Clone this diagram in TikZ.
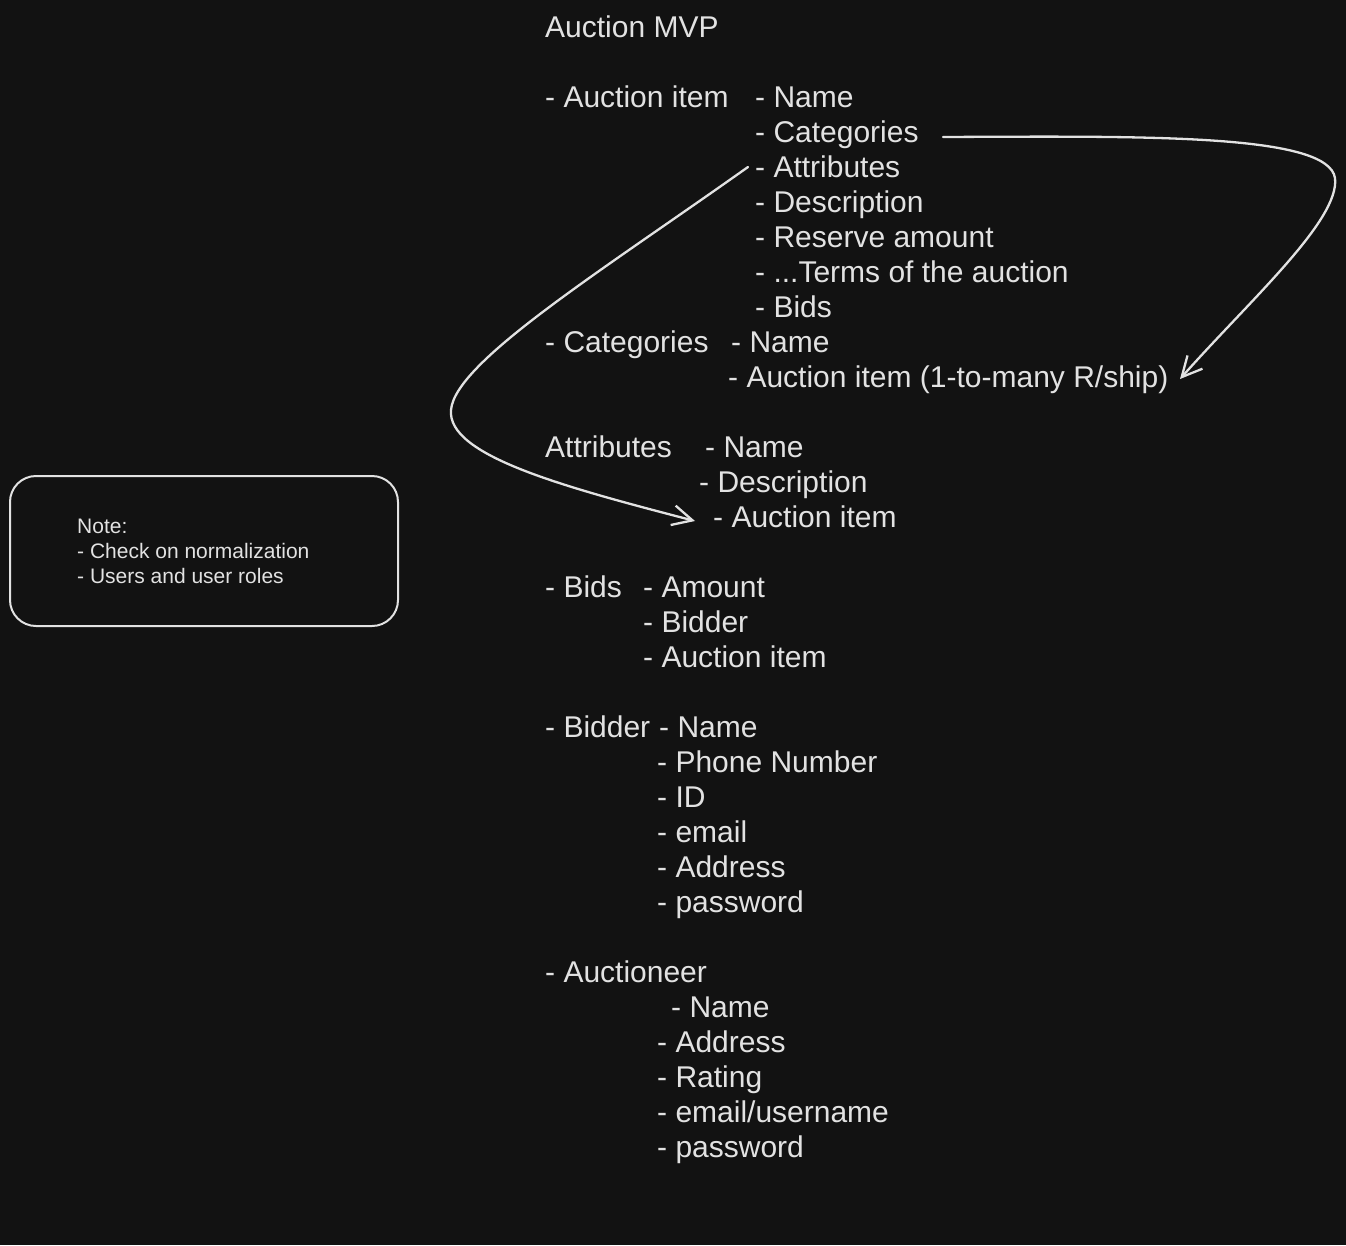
\documentclass[tikz,border=0pt]{standalone}
\usepackage{fontspec}
\setmainfont{Liberation Sans}
\usetikzlibrary{arrows.meta}
\definecolor{bg}{HTML}{121212}
\definecolor{fg}{HTML}{E2E2E2}
\tikzset{
  txt/.style={anchor=base west, inner sep=0pt, text=fg, font=\fontsize{30}{36}\selectfont},
  notetxt/.style={anchor=base west, inner sep=0pt, text=fg, font=\fontsize{21}{25}\selectfont},
  link/.style={draw=fg, line width=2.3pt, line cap=round, line join=round, -{Straight Barb[length=20pt,width=20pt,line width=2.3pt]}},
  notebox/.style={draw=fg, line width=2pt, rounded corners=26pt, minimum width=388pt, minimum height=150pt, inner sep=0pt}
}
\begin{document}
\begin{tikzpicture}[x=1pt,y=-1pt]
\path[fill=bg, use as bounding box] (0,0) rectangle (1346,1245);

% title
\node[txt] (title) at (545,37) {Auction MVP};

% auction item
\node[txt] (ai) at (545,107) {- Auction item};
\node[txt] (ainame) at (755,107) {- Name};
\node[txt] (aicat) at (755,142) {- Categories};
\node[txt] (aiattr) at (755,177) {- Attributes};
\node[txt] (aidesc) at (755,212) {- Description};
\node[txt] (aires) at (755,247) {- Reserve amount};
\node[txt] (aiterms) at (755,282) {- ...Terms of the auction};
\node[txt] (aibids) at (755,317) {- Bids};

% categories
\node[txt] (cat) at (545,352) {- Categories};
\node[txt] (catname) at (731,352) {- Name};
\node[txt] (catai) at (728,387) {- Auction item (1-to-many R/ship)};

% attributes
\node[txt] (attr) at (545,457) {Attributes};
\node[txt] (attrname) at (705,457) {- Name};
\node[txt] (attrdesc) at (699,492) {- Description};
\node[txt] (attrai) at (713,527) {- Auction item};

% bids
\node[txt] (bids) at (545,597) {- Bids};
\node[txt] (bidsamt) at (643,597) {- Amount};
\node[txt] (bidsbidder) at (643,632) {- Bidder};
\node[txt] (bidsai) at (643,667) {- Auction item};

% bidder
\node[txt] (bidder) at (545,737) {- Bidder};
\node[txt] (bname) at (659,737) {- Name};
\node[txt] (bphone) at (657,772) {- Phone Number};
\node[txt] (bid) at (657,807) {- ID};
\node[txt] (bemail) at (657,842) {- email};
\node[txt] (baddr) at (657,877) {- Address};
\node[txt] (bpass) at (657,912) {- password};

% auctioneer
\node[txt] (auc) at (545,982) {- Auctioneer};
\node[txt] (aname) at (671,1017) {- Name};
\node[txt] (aaddr) at (657,1052) {- Address};
\node[txt] (arating) at (657,1087) {- Rating};
\node[txt] (aemail) at (657,1122) {- email/username};
\node[txt] (apass) at (657,1157) {- password};

% note
\node[notebox] (note) at (204,551) {};
\node[notetxt] (n1) at (77,533) {Note:};
\node[notetxt] (n2) at (77,558) {- Check on normalization};
\node[notetxt] (n3) at (77,583) {- Users and user roles};

% connectors
\coordinate (c1s) at (943,137);
\coordinate (c1e) at (1180,379);
\draw[link] (c1s) .. controls (1150,136) and (1328,134) .. (1335,178)
  .. controls (1340,220) and (1250,300) .. (c1e);

\coordinate (c2s) at (748,167);
\coordinate (c2e) at (695,521);
\draw[link] (c2s) .. controls (600,272) and (455,362) .. (451,410)
  .. controls (447,455) and (560,486) .. (c2e);
\end{tikzpicture}
\end{document}
